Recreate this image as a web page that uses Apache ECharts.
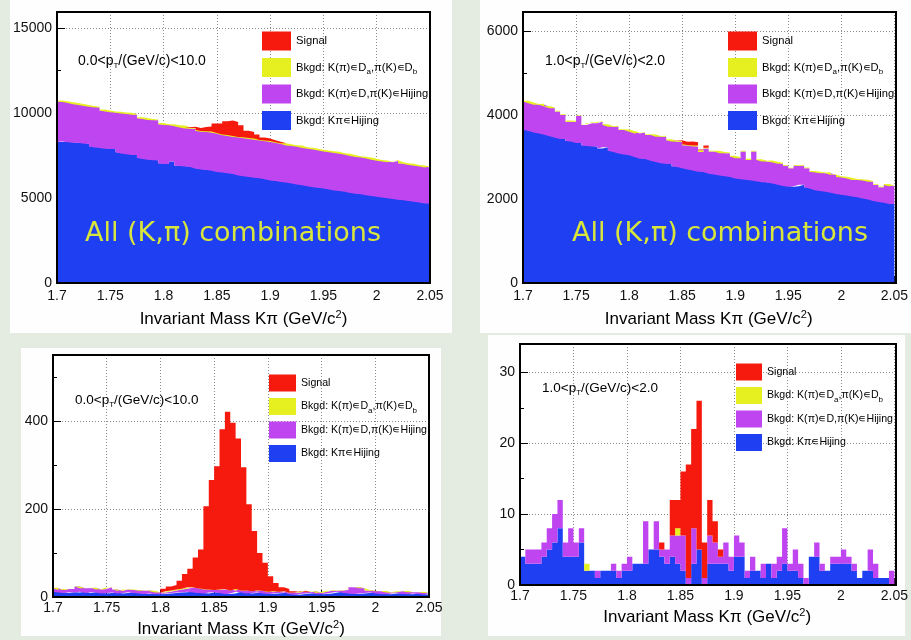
<!DOCTYPE html>
<html><head><meta charset="utf-8">
<script src="https://cdn.jsdelivr.net/npm/echarts@6/dist/echarts.min.js"></script>
<style>html,body{margin:0;padding:0;background:#e4ece2}#c{width:911px;height:640px}</style>
</head><body><div id="c"></div><script>
// ---------- DATA ----------
// 70 bins of width 0.005 GeV/c^2 from 1.70 to 2.05 (71 bin edges)
const binEdges = Array.from({length: 71}, (_, i) => (1.7 + 0.005 * i).toFixed(3));
const seriesNames = ['Signal', 'Bkgd: K(π)∊Da,π(K)∊Db', 'Bkgd: K(π)∊D,π(K)∊Hijing', 'Bkgd: Kπ∊Hijing'];
const ptLabels = ['0.0<p{s|T}/(GeV/c)<10.0', '1.0<p{s|T}/(GeV/c)<2.0', '0.0<p{s|T}/(GeV/c)<10.0', '1.0<p{s|T}/(GeV/c)<2.0'];
const bannerText = 'All (K,π) combinations';
const _ = null; // bins with no signal entries at all

// Panel 1: all pairs, 0<pT<10
const tlBlue = [8300,8330,8290,8260,8250,8200,8050,7980,7950,7900,
  7880,7700,7620,7580,7540,7350,7300,7260,7220,7050,
  7000,7150,6920,6880,6850,6820,6720,6680,6650,6600,
  6540,6500,6460,6420,6330,6290,6240,6200,6160,6100,
  6040,6000,5950,5910,5850,5800,5760,5700,5640,5600,
  5560,5500,5450,5420,5370,5300,5250,5230,5170,5120,
  5070,5030,4990,4940,4900,4870,4820,4780,4740,4680];
const tlPurple = [2380,2320,2310,2260,2230,2220,2330,2350,2200,2200,
  2170,2320,2360,2370,2360,2350,2350,2340,2360,2300,
  2300,2130,2300,2270,2250,2260,2230,2220,2230,2250,
  2240,2200,2190,2180,2230,2230,2240,2230,2220,2240,
  2260,2240,2230,2190,2210,2220,2190,2200,2210,2200,
  2180,2200,2200,2180,2180,2180,2170,2150,2160,2140,
  2130,2120,2110,2240,2150,2130,2130,2120,2110,2120];
const tlYellow = [60,50,40,70,50,60,40,50,60,50,
  40,60,50,70,40,50,60,50,40,60,
  50,60,70,120,60,50,60,40,50,60,
  50,40,60,50,40,60,50,70,40,50,
  60,50,40,60,50,70,40,60,50,40,
  60,50,70,40,50,60,40,50,60,50,
  40,60,50,40,60,50,70,40,60,50];
const tlSignal = [_,_,_,_,_,_,_,_,_,_,
  _,_,_,_,_,_,_,_,_,_,
  _,_,_,_,0,60,110,240,280,480,
  560,780,860,820,680,380,360,240,150,120,
  40,20,0,_,_,_,_,_,_,_,
  _,_,_,_,_,_,_,_,_,_,
  _,_,_,_,_,_,_,_,_,_];

// Panel 2: all pairs, 1<pT<2
const trBlue = [3650,3620,3580,3560,3530,3490,3460,3430,3380,3370,
  3330,3280,3260,3250,3200,3230,3150,3120,3080,3060,
  3040,3000,2960,2950,2910,2880,2850,2830,2780,2760,
  2730,2700,2680,2650,2640,2600,2580,2560,2540,2520,
  2490,2470,2460,2440,2420,2400,2390,2370,2340,2310,
  2290,2300,2340,2280,2250,2210,2190,2170,2150,2120,
  2100,2080,2060,2040,2010,1990,1950,1930,1910,1880];
const trPurple = [670,660,660,680,670,670,620,570,460,470,
  650,480,540,550,640,530,570,600,560,580,
  560,560,620,570,610,600,630,570,590,600,
  550,570,570,470,560,530,550,530,550,490,
  480,660,470,690,510,490,500,500,500,480,
  440,490,450,450,400,420,420,440,420,400,
  410,410,390,410,430,420,380,350,420,420];
const trYellow = [20,15,20,25,15,20,20,15,25,20,
  15,20,25,15,20,20,15,25,20,15,
  20,25,15,20,15,20,25,20,15,20,
  20,15,20,40,20,15,20,25,15,20,
  20,15,25,20,15,20,25,15,20,20,
  15,20,25,20,15,20,20,25,15,20,
  20,15,25,20,15,20,20,15,25,20];
const trSignal = [_,_,_,_,_,_,_,_,_,_,
  _,_,_,_,_,_,_,_,_,_,
  _,_,_,_,_,_,_,_,0,20,
  60,80,80,20,50,0,_,_,_,_,
  _,_,_,_,_,_,_,_,_,_,
  _,_,_,_,_,_,_,_,_,_,
  _,_,_,_,_,_,_,_,_,_];

// Panel 3: after cuts, 0<pT<10
const blBlue = [12,10,9,11,10,12,9,11,10,8,
  9,10,8,9,11,9,8,7,8,6,
  7,8,9,10,11,12,10,9,8,10,
  11,9,7,8,12,10,8,9,10,8,
  7,8,9,10,6,5,7,8,9,6,
  7,8,10,12,9,8,7,8,9,10,
  8,7,6,8,9,7,6,8,7,5];
const blPurple = [8,6,9,7,14,8,11,10,7,10,
  13,7,6,8,5,7,6,8,5,4,
  3,4,6,7,8,9,12,11,9,7,
  5,8,10,7,6,5,6,4,5,6,
  4,5,3,2,4,5,6,3,4,3,
  5,6,4,3,7,14,15,12,6,4,
  5,6,4,3,4,6,5,3,4,4];
const blYellow = [1,0,0,1,0,0,1,0,0,0,
  1,0,0,0,1,0,0,0,1,0,
  0,1,0,0,0,1,0,0,1,0,
  0,0,1,0,0,0,1,0,0,0,
  1,0,0,1,0,0,0,1,0,0,
  0,2,0,0,1,0,0,0,1,0,
  0,1,0,0,0,1,0,0,1,0];
const blSignal = [_,_,_,_,_,_,_,_,_,_,
  _,_,_,_,_,_,_,_,_,0,
  9,11,12,20,33,42,68,88,188,249,
  281,364,403,381,342,280,196,137,85,64,
  35,19,10,5,3,2,1,0,_,_,
  _,_,_,_,_,_,_,_,_,_,
  _,_,_,_,_,_,_,_,_,_];

// Panel 4: after cuts, 1<pT<2
const brBlue = [4,3,3,3,4,5,6,8,4,4,
  4,6,2,2,1,2,2,2,1,2,
  2,3,3,3,5,5,4,3,4,3,
  2,0,3,5,0,3,3,3,3,2,
  4,4,1,2,2,1,3,1,2,3,
  2,2,1,0,4,4,2,2,3,3,
  3,3,2,1,2,2,1,1,1,0];
const brPurple = [0,2,2,2,2,3,4,4,2,4,
  2,2,0,0,1,0,0,1,1,1,
  2,0,0,6,0,4,1,2,3,4,
  5,1,5,0,1,4,3,1,3,2,
  3,2,1,2,0,2,0,2,2,5,
  1,3,2,1,0,2,1,0,1,1,
  2,1,1,0,0,3,2,0,0,2];
const brYellow = [0,0,0,0,0,0,0,0,0,0,
  0,0,1,0,0,0,0,0,0,0,
  0,0,0,0,0,0,0,0,0,1,
  0,0,0,0,0,0,0,0,0,0,
  0,0,0,0,0,0,0,0,0,0,
  0,0,0,0,0,0,0,0,0,0,
  0,0,0,0,0,0,0,0,0,0];
const brSignal = [_,_,_,_,_,_,_,_,_,_,
  _,_,_,_,_,_,_,_,_,_,
  _,_,_,_,_,0,1,0,5,4,
  9,16,14,21,5,5,3,1,0,_,
  _,_,_,_,_,_,_,_,_,_,
  _,_,_,_,_,_,_,_,_,_,
  _,_,_,_,_,_,_,_,_,_];

const yMaxes = [15950, 6450, 550, 34];
const yIntervals = [5000, 2000, 200, 10];

// ---------- LAYOUT / STYLE ----------
const FONT = '"Liberation Sans", Arial, sans-serif';
const colors = {sig: '#f5190e', yel: '#e6f020', pur: '#bf45f0', blu: '#1f3ff2'};
const layout = [
  {left: 57, top: 12, width: 373, height: 271, nameGap: 26, labelMargin: 6,
   legend: {left: 262, top: 31.5, w: 29, h: 19, gap: 7.5, fs: 11.2},
   pt: {x: 78, y: 61, fs: 14}, banner: {x: 85, y: 234}, panel: [10, 0, 442, 333]},
  {left: 523, top: 12, width: 373, height: 271, nameGap: 26, labelMargin: 6,
   legend: {left: 728, top: 31.5, w: 29, h: 19, gap: 7.5, fs: 11.2},
   pt: {x: 545, y: 61, fs: 14}, banner: {x: 572, y: 234}, panel: [480, 0, 431, 333]},
  {left: 53, top: 355, width: 376, height: 242, nameGap: 22, labelMargin: 4,
   legend: {left: 269, top: 374.5, w: 27, h: 17, gap: 6.5, fs: 10.6},
   pt: {x: 75, y: 400, fs: 13.5}, banner: null, panel: [21, 348, 420, 288]},
  {left: 520, top: 344, width: 376, height: 241, nameGap: 22, labelMargin: 4,
   legend: {left: 736, top: 363.5, w: 26, h: 17, gap: 6.5, fs: 10.6},
   pt: {x: 542, y: 388, fs: 13.5}, banner: null, panel: [488, 335, 417, 301]}
];

const panelsData = [
  [tlBlue, tlPurple, tlYellow, tlSignal],
  [trBlue, trPurple, trYellow, trSignal],
  [blBlue, blPurple, blYellow, blSignal],
  [brBlue, brPurple, brYellow, brSignal]
];
const stackOrder = [ // bottom -> top
  {name: seriesNames[3], color: colors.blu},
  {name: seriesNames[2], color: colors.pur},
  {name: seriesNames[1], color: colors.yel},
  {name: seriesNames[0], color: colors.sig}
];

function histSeries(gi, k, vals) {
  // one point per bin edge; step 'end' keeps each bin's value across the bin
  const data = vals.concat([vals[vals.length - 1]]).map(v => (v === null ? '-' : v));
  const c = stackOrder[k].color;
  return {
    type: 'line', name: stackOrder[k].name, xAxisIndex: gi, yAxisIndex: gi,
    stack: 'h' + gi, step: 'end', symbol: 'none', showSymbol: false, connectNulls: false,
    lineStyle: {width: 1, opacity: 0, color: c}, itemStyle: {color: c},
    areaStyle: {color: c, opacity: 1}, data: data, z: 2, silent: true
  };
}

const legendRich = (fs) => ({
  t: {fontFamily: FONT, fontSize: fs, color: '#000'},
  s: {fontFamily: FONT, fontSize: 8, lineHeight: 8, color: '#000', padding: [9, 0, 0, 0]}
});
const legendLabel = {
  [seriesNames[0]]: '{t|Signal}',
  [seriesNames[1]]: '{t|Bkgd: K(π)∊D}{s|a}{t|,π(K)∊D}{s|b}',
  [seriesNames[2]]: '{t|Bkgd: K(π)∊D,π(K)∊Hijing}',
  [seriesNames[3]]: '{t|Bkgd: Kπ∊Hijing}'
};
const legendColors = [colors.sig, colors.yel, colors.pur, colors.blu];

const series = [];
panelsData.forEach((arrs, gi) => arrs.forEach((vals, k) => series.push(histSeries(gi, k, vals))));

const graphic = [];
layout.forEach((g, i) => {
  graphic.push({type: 'rect', z: -10, shape: {x: g.panel[0], y: g.panel[1], width: g.panel[2], height: g.panel[3]},
    style: {fill: '#fdfefd'}});
  graphic.push({type: 'rect', z: 50, shape: {x: g.left, y: g.top, width: g.width, height: g.height},
    style: {fill: 'none', stroke: '#000', lineWidth: 2}});
  graphic.push({type: 'text', z: 60, x: g.pt.x, y: g.pt.y, style: {
    text: ptLabels[i], font: g.pt.fs + 'px ' + FONT, fill: '#000', verticalAlign: 'middle',
    rich: {s: {fontFamily: FONT, fontSize: 8, lineHeight: 8, padding: [10, 0, 0, 0], fill: '#000'}}}});
  if (g.banner) {
    graphic.push({type: 'text', z: 60, x: g.banner.x, y: g.banner.y, style: {
      text: bannerText, font: '27px "DejaVu Sans", sans-serif', fill: '#d8e63c', verticalAlign: 'middle'}});
  }
});

const option = {
  animation: false,
  backgroundColor: '#e4ece2',
  grid: layout.map(g => ({left: g.left, top: g.top, width: g.width, height: g.height,
    show: true, backgroundColor: '#ffffff', borderWidth: 0})),
  xAxis: layout.map((g, i) => ({
    gridIndex: i, type: 'category', data: binEdges, boundaryGap: false,
    axisLine: {show: false},
    axisTick: {show: true, inside: true, length: 7, interval: 9, lineStyle: {color: '#000'}},
    splitLine: {show: true, interval: 9, lineStyle: {color: '#8a8a8a', type: [1, 2], width: 1}},
    axisLabel: {fontFamily: FONT, fontSize: 14, color: '#111', margin: g.labelMargin, interval: 9,
      showMinLabel: true, showMaxLabel: true, hideOverlap: false,
      formatter: v => String(parseFloat(v))},
    name: '{n|Invariant Mass Kπ (GeV/c}{p|2}{n|)}', nameLocation: 'middle', nameGap: g.nameGap,
    nameTextStyle: {fontFamily: FONT, fontSize: 17, color: '#000', rich: {
      n: {fontFamily: FONT, fontSize: 17, color: '#000'},
      p: {fontFamily: FONT, fontSize: 11, color: '#000', padding: [0, 0, 9, 0]}}}
  })),
  yAxis: layout.map((g, i) => ({
    gridIndex: i, type: 'value', min: 0, max: yMaxes[i], interval: yIntervals[i],
    axisLine: {show: false},
    axisTick: {show: true, inside: true, length: 8, lineStyle: {color: '#000'}},
    minorTick: {show: true, splitNumber: 2, length: 4, lineStyle: {color: '#000'}},
    splitLine: {show: true, lineStyle: {color: '#8a8a8a', type: [1, 2], width: 1}},
    axisLabel: {fontFamily: FONT, fontSize: 14, color: '#111', margin: 5, showMaxLabel: false,
      formatter: v => String(v)}
  })),
  legend: layout.map(g => ({
    orient: 'vertical', left: g.legend.left, top: g.legend.top, padding: 0,
    itemWidth: g.legend.w, itemHeight: g.legend.h, itemGap: g.legend.gap,
    icon: 'rect', selectedMode: false,
    data: seriesNames.map((n, k) => ({name: n, itemStyle: {color: legendColors[k], borderWidth: 0}})),
    formatter: n => legendLabel[n],
    textStyle: {fontFamily: FONT, fontSize: g.legend.fs, color: '#000', rich: legendRich(g.legend.fs)}
  })),
  graphic: graphic,
  series: series
};

const chart = echarts.init(document.getElementById('c'), null, {renderer: 'canvas'});
chart.setOption(option);
</script></body></html>
